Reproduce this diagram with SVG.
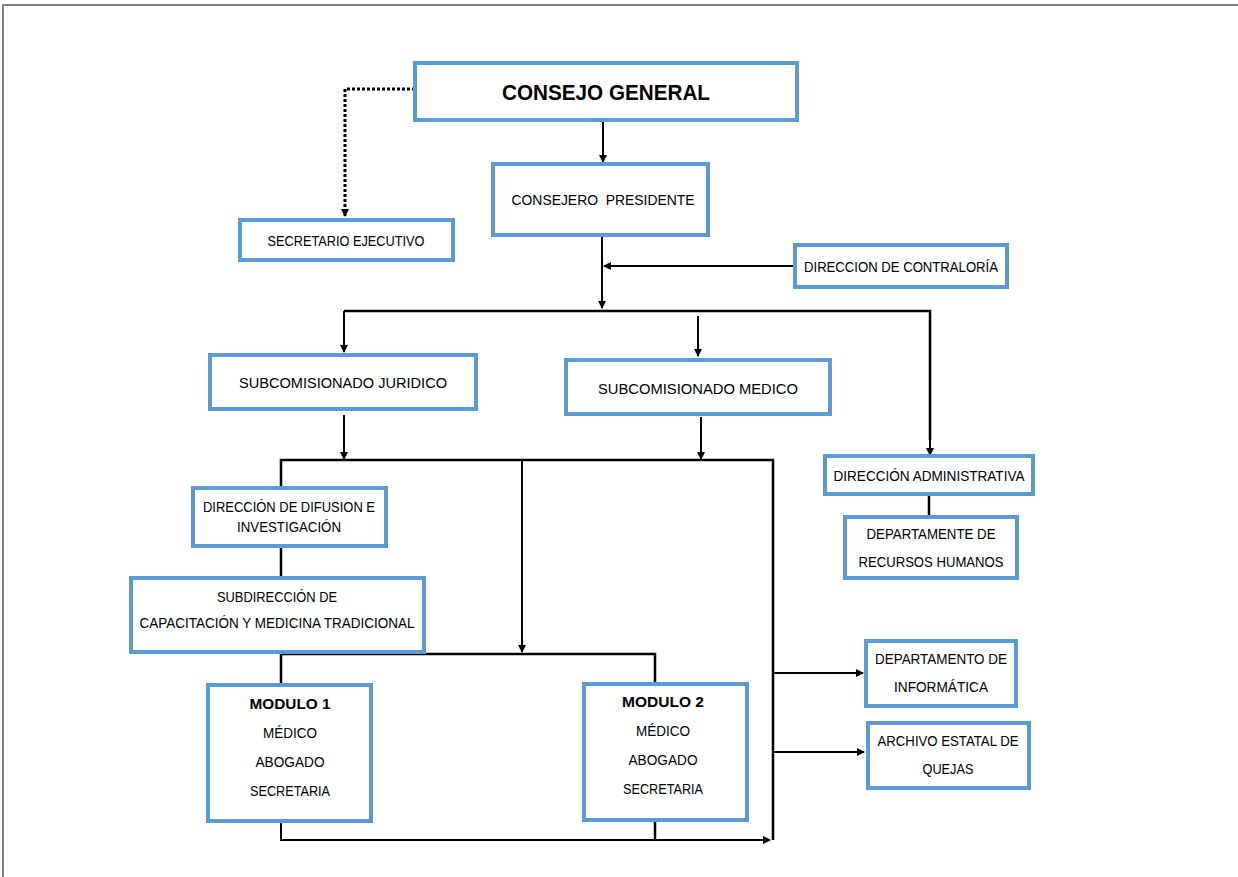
<svg xmlns="http://www.w3.org/2000/svg" width="1238" height="877" viewBox="0 0 1238 877">
<style>
.box{fill:#fff;stroke:#5b9bd5;stroke-width:4}
.t{font-family:"Liberation Sans",Arial,sans-serif;font-size:14.5px;fill:#000;text-anchor:middle}
.b{font-weight:bold}
.ln{fill:none;stroke:#000;stroke-width:2.5}
.ar{fill:none;stroke:#000;stroke-width:2;marker-end:url(#ah)}
</style>
<defs>
<marker id="ah" markerWidth="8" markerHeight="8" refX="7" refY="4" orient="auto" markerUnits="userSpaceOnUse">
<path d="M0,0 L8,4 L0,8 Z" fill="#000"/>
</marker>
</defs>
<rect width="1238" height="877" fill="#fff"/>
<path d="M3,877 V5 H1238" fill="none" stroke="#808080" stroke-width="2"/>
<g id="connectors">
<path d="M415,89 H345 V216" fill="none" stroke="#000" stroke-width="3" stroke-dasharray="3,2" marker-end="url(#ah)"/>
<path class="ar" d="M603,120 V162"/>
<path class="ar" d="M602,235 V308"/>
<path class="ar" d="M795,266 H604"/>
<path class="ln" d="M344,311 H930 V440"/>
<path class="ar" d="M344,311 V352"/>
<path class="ar" d="M930,438 V455"/>
<path class="ar" d="M698,316 V356"/>
<path class="ln" d="M929,494 V517"/>
<path class="ar" d="M344,415 V459"/>
<path class="ar" d="M701,417 V459"/>
<path class="ln" d="M281,488 V460 H773 V840"/>
<path class="ar" d="M522,460 V652"/>
<path class="ln" d="M281,546 V578"/>
<path class="ln" d="M281,685 V654 H655 V685"/>
<path class="ar" d="M773,673 H863"/>
<path class="ar" d="M773,752 H864"/>
<path class="ln" d="M655,820 V840"/>
<path class="ar" d="M281,821 V840 H770"/>
</g>
<g id="consejo-general">
<rect class="box" x="415" y="63" width="382" height="57"/>
<text class="t b" x="606" y="100" style="font-size:22px" textLength="208" lengthAdjust="spacingAndGlyphs">CONSEJO GENERAL</text>
</g>
<g id="secretario-ejecutivo">
<rect class="box" x="240" y="220" width="213" height="40"/>
<text class="t" x="346" y="246" textLength="157" lengthAdjust="spacingAndGlyphs">SECRETARIO EJECUTIVO</text>
</g>
<g id="consejero-presidente">
<rect class="box" x="493" y="164" width="215" height="71"/>
<text class="t" x="603" y="205" xml:space="preserve" textLength="183" lengthAdjust="spacingAndGlyphs">CONSEJERO  PRESIDENTE</text>
</g>
<g id="direccion-contraloria">
<rect class="box" x="795" y="245" width="212" height="42"/>
<text class="t" x="901" y="272" textLength="194" lengthAdjust="spacingAndGlyphs">DIRECCION DE CONTRALORÍA</text>
</g>
<g id="subcomisionado-juridico">
<rect class="box" x="210" y="355" width="266" height="54"/>
<text class="t" x="343" y="388" textLength="208" lengthAdjust="spacingAndGlyphs">SUBCOMISIONADO JURIDICO</text>
</g>
<g id="subcomisionado-medico">
<rect class="box" x="566" y="360" width="264" height="54"/>
<text class="t" x="698" y="394" textLength="200" lengthAdjust="spacingAndGlyphs">SUBCOMISIONADO MEDICO</text>
</g>
<g id="direccion-administrativa">
<rect class="box" x="825" y="456" width="208" height="38"/>
<text class="t" x="929" y="481" textLength="191" lengthAdjust="spacingAndGlyphs">DIRECCIÓN ADMINISTRATIVA</text>
</g>
<g id="departamento-rh">
<rect class="box" x="845" y="517" width="172" height="61"/>
<text class="t" x="931" y="539" textLength="129" lengthAdjust="spacingAndGlyphs">DEPARTAMENTE DE</text>
<text class="t" x="931" y="567" textLength="145" lengthAdjust="spacingAndGlyphs">RECURSOS HUMANOS</text>
</g>
<g id="direccion-difusion">
<rect class="box" x="193" y="488" width="193" height="58"/>
<text class="t" x="289" y="512" textLength="172" lengthAdjust="spacingAndGlyphs">DIRECCIÓN DE DIFUSION E</text>
<text class="t" x="289" y="532" textLength="104" lengthAdjust="spacingAndGlyphs">INVESTIGACIÓN</text>
</g>
<g id="subdireccion-capacitacion">
<rect class="box" x="131" y="578" width="293" height="74"/>
<text class="t" x="277" y="602" textLength="120" lengthAdjust="spacingAndGlyphs">SUBDIRECCIÓN DE</text>
<text class="t" x="277" y="628" textLength="275" lengthAdjust="spacingAndGlyphs">CAPACITACIÓN Y MEDICINA TRADICIONAL</text>
</g>
<g id="modulo-1">
<rect class="box" x="208" y="685" width="163" height="136"/>
<text class="t b" x="290" y="709" textLength="81" lengthAdjust="spacingAndGlyphs">MODULO 1</text>
<text class="t" x="290" y="738" textLength="54" lengthAdjust="spacingAndGlyphs">MÉDICO</text>
<text class="t" x="290" y="767" textLength="69" lengthAdjust="spacingAndGlyphs">ABOGADO</text>
<text class="t" x="290" y="796" textLength="80" lengthAdjust="spacingAndGlyphs">SECRETARIA</text>
</g>
<g id="modulo-2">
<rect class="box" x="584" y="684" width="163" height="136"/>
<text class="t b" x="663" y="707" textLength="82" lengthAdjust="spacingAndGlyphs">MODULO 2</text>
<text class="t" x="663" y="736" textLength="54" lengthAdjust="spacingAndGlyphs">MÉDICO</text>
<text class="t" x="663" y="765" textLength="69" lengthAdjust="spacingAndGlyphs">ABOGADO</text>
<text class="t" x="663" y="794" textLength="80" lengthAdjust="spacingAndGlyphs">SECRETARIA</text>
</g>
<g id="departamento-informatica">
<rect class="box" x="866" y="641" width="150" height="65"/>
<text class="t" x="941" y="664" textLength="132" lengthAdjust="spacingAndGlyphs">DEPARTAMENTO DE</text>
<text class="t" x="941" y="692" textLength="94" lengthAdjust="spacingAndGlyphs">INFORMÁTICA</text>
</g>
<g id="archivo-estatal">
<rect class="box" x="868" y="723" width="161" height="65"/>
<text class="t" x="948" y="746" textLength="141" lengthAdjust="spacingAndGlyphs">ARCHIVO ESTATAL DE</text>
<text class="t" x="948" y="774" textLength="51" lengthAdjust="spacingAndGlyphs">QUEJAS</text>
</g>
</svg>
